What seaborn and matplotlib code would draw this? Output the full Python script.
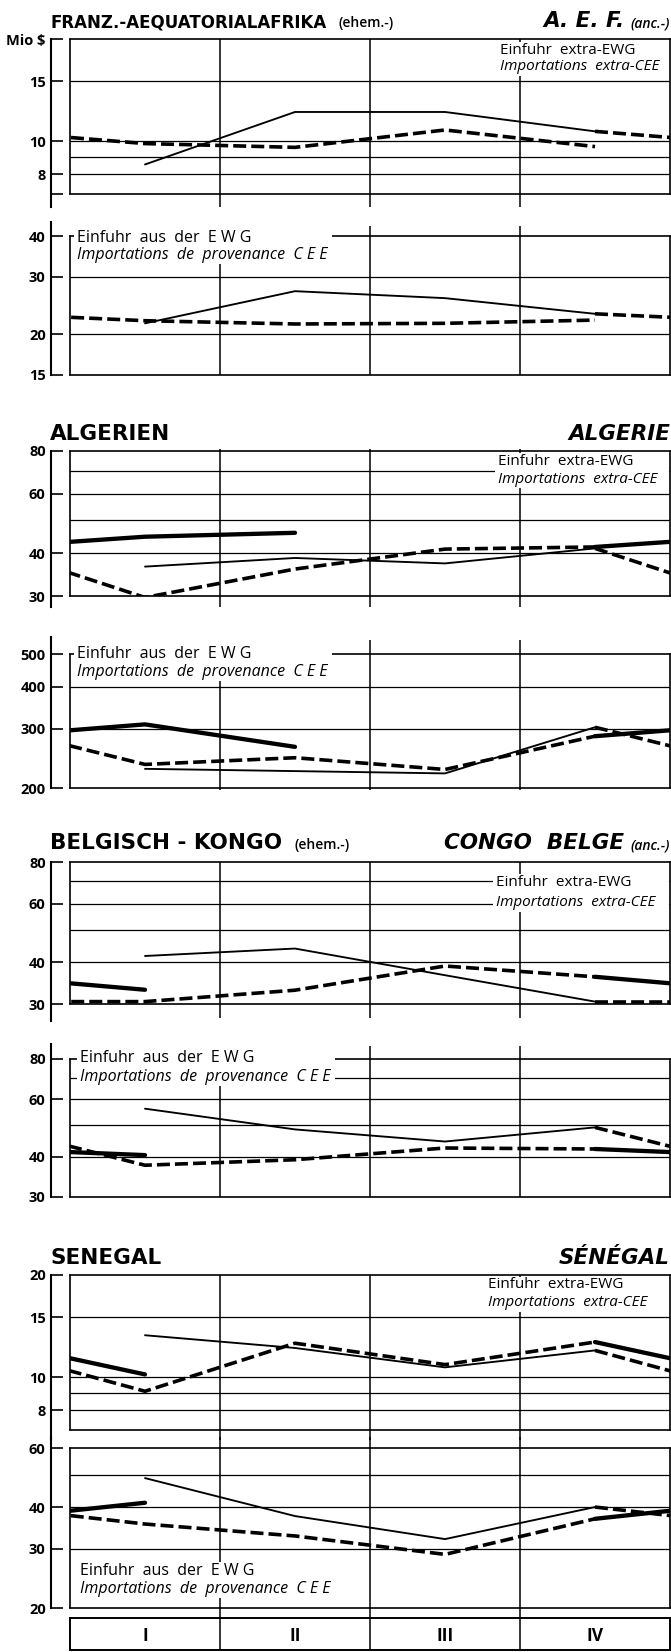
import matplotlib
matplotlib.use("Agg")
import pandas as pd
import matplotlib.pyplot as plt
import seaborn as sns
from matplotlib.patches import Rectangle
from matplotlib.ticker import NullLocator

# Einfuhr je Quartal (Mio $) - drei Jahre: duenne Linie, gestrichelt, dick
quarters = ["I", "II", "III", "IV"]

aef_extra_thin = [8.55, 12.2, 12.2, 10.7]
aef_extra_dash = [9.85, 9.6, 10.8, 9.65]
aef_extra_thick = []
aef_ewg_thin = [21.6, 27.1, 25.8, 23.1]
aef_ewg_dash = [22.0, 21.5, 21.6, 22.1]
aef_ewg_thick = []

alg_extra_thin = [36.6, 38.8, 37.4, 41.4]
alg_extra_dash = [29.7, 36.0, 41.2, 41.8]
alg_extra_thick = [44.8, 46.0]
alg_ewg_thin = [228, 224.5, 221, 303]
alg_ewg_dash = [235, 246, 227, 285]
alg_ewg_thick = [309, 265]

congo_extra_thin = [41.8, 44.0, 36.6, 30.5]
congo_extra_dash = [30.5, 33.0, 39.0, 36.2]
congo_extra_thick = [33.1]
congo_ewg_thin = [56.2, 48.5, 44.5, 49.2]
congo_ewg_dash = [37.6, 39.1, 42.5, 42.2]
congo_ewg_thick = [40.4]

sen_extra_thin = [13.3, 12.2, 10.7, 12.0]
sen_extra_dash = [9.1, 12.6, 10.9, 12.7]
sen_extra_thick = [10.2]
sen_ewg_thin = [48.8, 37.6, 32.1, 40.0]
sen_ewg_dash = [35.6, 32.8, 28.9, 36.9]
sen_ewg_thick = [41.2]

W, H = 671, 1652

sns.set_theme(style="white")
plt.rcParams["font.family"] = ["Open Sans", "DejaVu Sans"]
plt.rcParams["text.color"] = "black"
plt.rcParams["ytick.color"] = "black"
plt.rcParams["xtick.color"] = "black"

# panel layout (pixel rows of the frame, y range, ticks, grid, axis extension)
panels = [
    dict(series=(aef_extra_thin, aef_extra_dash, aef_extra_thick), top=39, bot=194, ylim=(7, 20),
         ticks=[7, 8, 10, 15, 20], labels=["", "8", "10", "15", "Mio $"], grid=[8, 9, 10, 15],
         spine=(39, 207), vl=(39, 207)),
    dict(series=(aef_ewg_thin, aef_ewg_dash, aef_ewg_thick), top=236, bot=375, ylim=(15, 40),
         ticks=[15, 20, 30, 40], labels=["15", "20", "30", "40"], grid=[20, 30],
         spine=(222, 375), vl=(226, 375)),
    dict(series=(alg_extra_thin, alg_extra_dash, alg_extra_thick), top=451, bot=596, ylim=(30, 80),
         ticks=[30, 40, 60, 80], labels=["30", "40", "60", "80"], grid=[40, 50, 60, 70],
         spine=(451, 607), vl=(449, 607)),
    dict(series=(alg_ewg_thin, alg_ewg_dash, alg_ewg_thick), top=654, bot=788, ylim=(200, 500),
         ticks=[200, 300, 400, 500], labels=["200", "300", "400", "500"], grid=[300, 400],
         spine=(637, 788), vl=(640, 790)),
    dict(series=(congo_extra_thin, congo_extra_dash, congo_extra_thick), top=862, bot=1004, ylim=(30, 80),
         ticks=[30, 40, 60, 80], labels=["30", "40", "60", "80"], grid=[40, 50, 60, 70],
         spine=(862, 1021), vl=(862, 1018)),
    dict(series=(congo_ewg_thin, congo_ewg_dash, congo_ewg_thick), top=1059, bot=1197, ylim=(30, 80),
         ticks=[30, 40, 60, 80], labels=["30", "40", "60", "80"], grid=[40, 50, 60, 70],
         spine=(1044, 1197), vl=(1046, 1197)),
    dict(series=(sen_extra_thin, sen_extra_dash, sen_extra_thick), top=1275, bot=1430, ylim=(7, 20),
         ticks=[8, 10, 15, 20], labels=["8", "10", "15", "20"], grid=[8, 9, 10, 15],
         spine=(1275, 1440), vl=(1275, 1440)),
    dict(series=(sen_ewg_thin, sen_ewg_dash, sen_ewg_thick), top=1448, bot=1608, ylim=(20, 60),
         ticks=[20, 30, 40, 60], labels=["20", "30", "40", "60"], grid=[30, 40, 50],
         spine=(1437, 1608), vl=(1437, 1618)),
]


def px_to_val(p, y):
    lo, hi = p["ylim"]
    frac = (p["bot"] - y) / (p["bot"] - p["top"])
    return lo * (hi / lo) ** frac


def build_segments(thin, dash, thick):
    rows = []
    for i, v in enumerate(thin):
        rows.append(("thin", "thin", i, v))
    # the following year enters from the previous year's 4th quarter
    for x, v in zip([-1, 0, 1, 2, 3], [thin[-1]] + dash):
        rows.append(("dash_a", "dash", x, v))
    for x, v in zip([3, 4], [thin[-1], dash[0]]):
        rows.append(("dash_b", "dash", x, v))
    if thick:
        for x, v in zip(range(-1, len(thick)), [dash[-1]] + thick):
            rows.append(("thick_a", "thick", x, v))
        for x, v in zip([3, 4], [dash[-1], thick[0]]):
            rows.append(("thick_b", "thick", x, v))
    return pd.DataFrame(rows, columns=["seg", "kind", "x", "v"])


fig = plt.figure(figsize=(W / 100, H / 100), dpi=100)
fig.patch.set_facecolor("white")

for p in panels:
    ax = fig.add_axes([70 / W, 1 - p["bot"] / H, 600 / W, (p["bot"] - p["top"]) / H])
    df = build_segments(*p["series"])
    sns.lineplot(data=df, x="x", y="v", units="seg", style="kind", size="kind",
                 sizes={"thin": 1.35, "dash": 2.6, "thick": 3.1},
                 dashes={"thin": "", "dash": (3.6, 1.4), "thick": ""},
                 color="black", estimator=None, sort=False, legend=False, ax=ax, zorder=3)
    ax.set_yscale("log")
    ax.set_xlim(-0.5, 3.5)
    ax.set_ylim(*p["ylim"])
    ax.set_xlabel("")
    ax.set_ylabel("")
    ax.set_xticks([])

    for g in p["grid"]:
        ax.axhline(g, color="black", lw=0.9, zorder=1)
    ax.vlines([0.5, 1.5, 2.5], px_to_val(p, p["vl"][1]), px_to_val(p, p["vl"][0]),
              colors="black", lw=1.1, clip_on=False, zorder=1)
    ax.axvline(-0.5, color="black", lw=1.2, clip_on=False, zorder=2)

    for s in ["top", "right", "bottom"]:
        ax.spines[s].set_color("black")
        ax.spines[s].set_linewidth(1.2)
    ax.spines["left"].set_position(("outward", 13.5))
    ax.spines["left"].set_bounds(px_to_val(p, p["spine"][1]), px_to_val(p, p["spine"][0]))
    ax.spines["left"].set_color("black")
    ax.spines["left"].set_linewidth(1.5)

    ax.set_yticks(p["ticks"])
    ax.set_yticklabels(p["labels"])
    ax.yaxis.set_minor_locator(NullLocator())
    ax.tick_params(axis="y", direction="in", length=8.5, width=1.2, pad=4,
                   labelsize=10.5, colors="black", left=True)
    for lbl in ax.get_yticklabels():
        lbl.set_fontweight("bold")

# quarter box
axq = fig.add_axes([70 / W, 1 - 1650 / H, 600 / W, 32 / H])
axq.set_xlim(-0.5, 3.5)
axq.set_ylim(0, 1)
axq.set_xticks([])
axq.set_yticks([])
axq.vlines([0.5, 1.5, 2.5], 0, 1, colors="black", lw=1.1)
for s in axq.spines.values():
    s.set_color("black")
    s.set_linewidth(1.4)
for i, q in enumerate(quarters):
    axq.text(i, 0.45, q, ha="center", va="center", fontsize=12.5, fontweight="bold")


def ftext(x, y, s, **kw):
    return fig.text(x / W, 1 - y / H, s, **kw)


renderer = fig.canvas.get_renderer()


def legend_block(x, y1, y2, line1, line2, size, right_to=None, pad_top=1):
    t1 = ftext(x, y1, line1, ha="left", va="center", fontsize=size, zorder=6)
    t2 = ftext(x, y2, line2, ha="left", va="center", fontsize=size, style="italic", zorder=6)
    b1 = t1.get_window_extent(renderer)
    b2 = t2.get_window_extent(renderer)
    x0 = min(b1.x0, b2.x0) - 3
    x1 = right_to if right_to else max(b1.x1, b2.x1) + 4
    y0 = min(b1.y0, b2.y0) - 1
    yt = max(b1.y1, b2.y1) + pad_top
    fig.add_artist(Rectangle((x0 / W, y0 / H), (x1 - x0) / W, (yt - y0) / H,
                             transform=fig.transFigure, facecolor="white",
                             edgecolor="none", zorder=5))


# legends inside the panels
extra_pos = [(500, 50, 67), (498, 462, 480), (496, 882, 903), (488, 1285, 1303)]
ewg_pos = [(77, 238, 255, 10), (77, 654, 672, 10), (80, 1058, 1077, 10), (80, 1571, 1589, 1)]
for x, y1, y2 in extra_pos:
    legend_block(x, y1, y2, "Einfuhr  extra-EWG", "Importations  extra-CEE", 11, right_to=668.6)
for x, y1, y2, pt in ewg_pos:
    legend_block(x, y1, y2, "Einfuhr  aus  der  E W G", "Importations  de  provenance  C E E",
                 11.5, pad_top=pt)

# titles
titles = [
    (27, "FRANZ.-AEQUATORIALAFRIKA", "(ehem.-)", "A. E. F.", "(anc.-)", 12),
    (440, "ALGERIEN", None, "ALGERIE", None, 15.5),
    (849, "BELGISCH - KONGO", "(ehem.-)", "CONGO  BELGE", "(anc.-)", 15.5),
    (1264, "SENEGAL", None, "SÉNÉGAL", None, 15.5),
]
for y, lmain, lsmall, rmain, rsmall, size in titles:
    t = ftext(50, y, lmain, ha="left", va="baseline", fontsize=size, fontweight="bold",
              family=["DejaVu Sans"])
    if lsmall:
        bb = t.get_window_extent(renderer)
        ftext(bb.x1 + 12, y, lsmall, ha="left", va="baseline", fontsize=10, fontweight="semibold")
    xr = 670
    if rsmall:
        s = ftext(xr, y, rsmall, ha="right", va="baseline", fontsize=10, fontweight="semibold",
                  style="italic")
        xr = s.get_window_extent(renderer).x0 - 6
    ftext(xr, y, rmain, ha="right", va="baseline", fontsize=15.5 if size < 15 else size,
          fontweight="bold", style="italic", family=["DejaVu Sans"])

fig.savefig("out.png", dpi=100, facecolor="white")
